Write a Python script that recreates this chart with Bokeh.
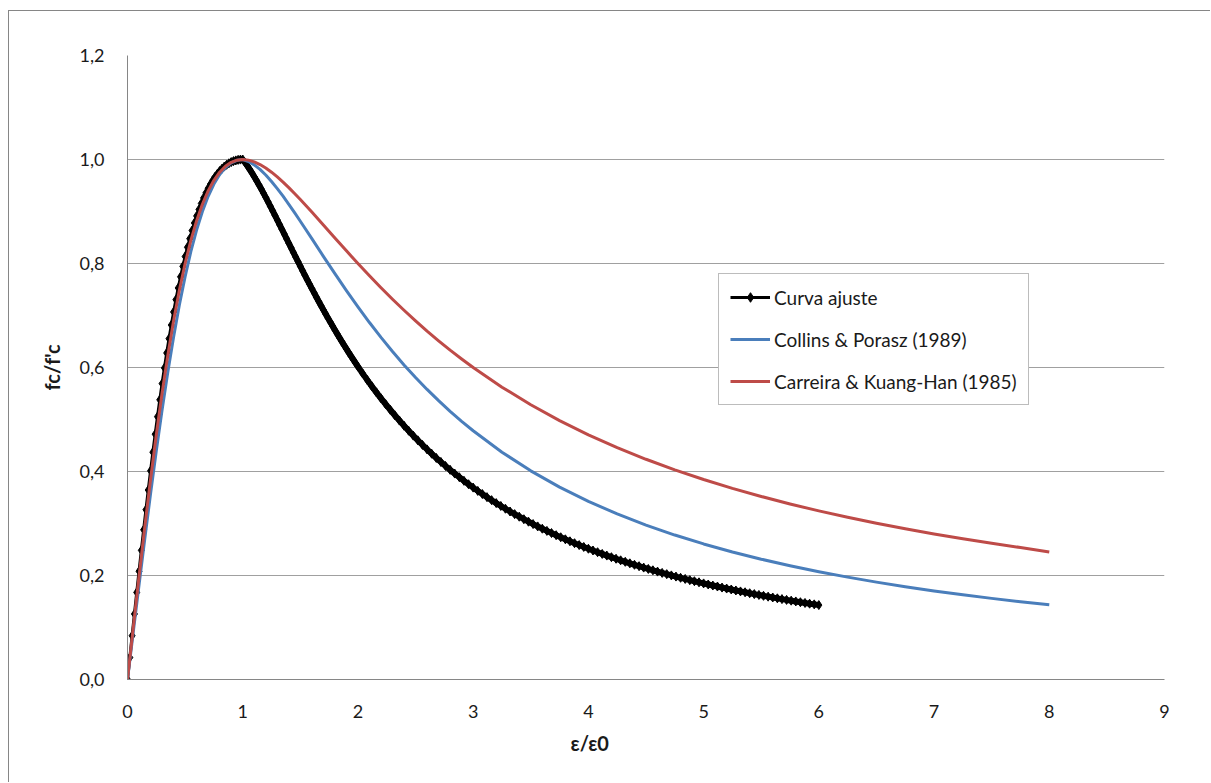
from bokeh.plotting import figure
from bokeh.models import Range1d, CustomJSTickFormatter, Legend, LegendItem, FixedTicker, Title
from bokeh.embed import file_html
from bokeh.resources import INLINE

# ---------------- data ----------------
X_TICKS = [0, 1, 2, 3, 4, 5, 6, 7, 8, 9]
Y_TICKS = [0.0, 0.2, 0.4, 0.6, 0.8, 1.0, 1.2]

SERIES_NAMES = ["Curva ajuste", "Collins & Porasz (1989)", "Carreira & Kuang-Han (1985)"]
X_TITLE = "ε/ε0"
Y_TITLE = "fc/f'c"

# "Curva ajuste": sampled every 0.02 up to 2.0, then every 0.04 up to 6.0
black_x = [round(i * 0.02, 2) for i in range(0, 101)] + [round(2.04 + i * 0.04, 2) for i in range(100)]
black_y = [
    0.0, 0.0422, 0.0842, 0.1260, 0.1674, 0.2082, 0.2484, 0.2879, 0.3266, 0.3644, 0.4013,
    0.4371, 0.4718, 0.5055, 0.5379, 0.5691, 0.5992, 0.6279, 0.6555, 0.6817, 0.7068,
    0.7305, 0.7530, 0.7744, 0.7945, 0.8134, 0.8312, 0.8478, 0.8634, 0.8779, 0.8914,
    0.9039, 0.9155, 0.9261, 0.9358, 0.9447, 0.9528, 0.9602, 0.9668, 0.9726, 0.9779,
    0.9824, 0.9864, 0.9898, 0.9927, 0.9950, 0.9969, 0.9983, 0.9993, 0.9998, 1.0,
    0.9941, 0.9879, 0.9812, 0.9742, 0.9669, 0.9594, 0.9516, 0.9436, 0.9354, 0.9270,
    0.9186, 0.9100, 0.9013, 0.8925, 0.8836, 0.8747, 0.8658, 0.8569, 0.8479, 0.8390,
    0.8301, 0.8212, 0.8123, 0.8035, 0.7947, 0.7860, 0.7773, 0.7687, 0.7602, 0.7518,
    0.7434, 0.7351, 0.7269, 0.7188, 0.7108, 0.7029, 0.6950, 0.6873, 0.6796, 0.6720,
    0.6646, 0.6572, 0.6499, 0.6428, 0.6357, 0.6287, 0.6218, 0.6150, 0.6083, 0.6017,
    0.5888, 0.5762, 0.5640, 0.5522, 0.5407, 0.5295, 0.5187, 0.5081, 0.4979, 0.4880,
    0.4784, 0.4690, 0.4599, 0.4511, 0.4425, 0.4342, 0.4261, 0.4183, 0.4106, 0.4032,
    0.3960, 0.3890, 0.3821, 0.3755, 0.3690, 0.3627, 0.3566, 0.3507, 0.3449, 0.3392,
    0.3337, 0.3284, 0.3231, 0.3180, 0.3131, 0.3082, 0.3035, 0.2989, 0.2944, 0.2900,
    0.2858, 0.2816, 0.2775, 0.2735, 0.2696, 0.2658, 0.2621, 0.2585, 0.2549, 0.2515,
    0.2481, 0.2448, 0.2415, 0.2383, 0.2352, 0.2322, 0.2292, 0.2263, 0.2234, 0.2206,
    0.2179, 0.2152, 0.2126, 0.2100, 0.2075, 0.2050, 0.2026, 0.2002, 0.1979, 0.1956,
    0.1934, 0.1911, 0.1890, 0.1869, 0.1848, 0.1827, 0.1807, 0.1788, 0.1768, 0.1749,
    0.1731, 0.1712, 0.1694, 0.1677, 0.1659, 0.1642, 0.1626, 0.1609, 0.1593, 0.1577,
    0.1561, 0.1546, 0.1531, 0.1516, 0.1501, 0.1486, 0.1472, 0.1458, 0.1445, 0.1431,
]

curve_x = [
    0.0, 0.05, 0.1, 0.15, 0.2, 0.25, 0.3, 0.35, 0.4, 0.45, 0.5, 0.55, 0.6, 0.65, 0.7, 0.75,
    0.8, 0.85, 0.9, 0.95, 1.0, 1.05, 1.1, 1.15, 1.2, 1.25, 1.3, 1.35, 1.4, 1.45, 1.5,
    1.6, 1.7, 1.8, 1.9, 2.0, 2.1, 2.2, 2.3, 2.4, 2.5, 2.6, 2.7, 2.8, 2.9, 3.0,
    3.25, 3.5, 3.75, 4.0, 4.25, 4.5, 4.75, 5.0, 5.25, 5.5, 5.75, 6.0, 6.25, 6.5, 6.75,
    7.0, 7.25, 7.5, 7.75, 8.0,
]
collins_y = [
    0.0, 0.0912, 0.1817, 0.2706, 0.3569, 0.4396, 0.5180, 0.5912, 0.6587, 0.7200, 0.7748,
    0.8231, 0.8648, 0.9001, 0.9293, 0.9528, 0.9710, 0.9844, 0.9934, 0.9984, 1.0,
    0.9962, 0.9897, 0.9809, 0.9701, 0.9577, 0.9440, 0.9294, 0.9139, 0.8978, 0.8813,
    0.8477, 0.8138, 0.7804, 0.7479, 0.7165, 0.6865, 0.6579, 0.6307, 0.6050, 0.5807,
    0.5578, 0.5362, 0.5157, 0.4965, 0.4783,
    0.4371, 0.4013, 0.3700, 0.3426, 0.3184, 0.2970, 0.2778, 0.2607, 0.2453, 0.2314,
    0.2188, 0.2073, 0.1969, 0.1873, 0.1785, 0.1704, 0.1629, 0.1560, 0.1495, 0.1436,
]
carreira_y = [
    0.0, 0.0998, 0.1980, 0.2934, 0.3846, 0.4706, 0.5505, 0.6236, 0.6897, 0.7484, 0.8000,
    0.8445, 0.8824, 0.9139, 0.9396, 0.9600, 0.9756, 0.9869, 0.9945, 0.9987, 1.0,
    0.9988, 0.9955, 0.9903, 0.9836, 0.9756, 0.9665, 0.9566, 0.9459, 0.9347, 0.9231,
    0.8989, 0.8740, 0.8491, 0.8243, 0.8000, 0.7763, 0.7534, 0.7313, 0.7101, 0.6897,
    0.6701, 0.6514, 0.6335, 0.6164, 0.6000,
    0.5622, 0.5283, 0.4979, 0.4706, 0.4459, 0.4235, 0.4032, 0.3846, 0.3676, 0.3520,
    0.3376, 0.3243, 0.3120, 0.3006, 0.2899, 0.2800, 0.2707, 0.2620, 0.2538, 0.2450,
]

# ---------------- styling ----------------
FONT = "Lato"
GRID = "#a0a0a0"
AXIS = "#868686"
BLUE = "#4a7ebb"
RED = "#be4b48"
TEXT = "#1a1a1a"

p = figure(
    width=1202, height=772,
    output_backend="svg", toolbar_location=None, title=None,
    x_range=Range1d(0, 9), y_range=Range1d(0, 1.2),
    min_border_left=118, min_border_right=47, min_border_top=44, min_border_bottom=104,
)
p.styles = {
    "margin-left": "8px",
    "margin-top": "10px",
    "border-left": "1px solid #868686",
    "border-top": "1px solid #868686",
}
p.outline_line_color = None
p.background_fill_color = "white"
p.border_fill_color = "white"

p.xaxis.ticker = FixedTicker(ticks=X_TICKS)
p.yaxis.ticker = FixedTicker(ticks=Y_TICKS)
p.xaxis.formatter = CustomJSTickFormatter(code="return tick.toFixed(0);")
p.yaxis.formatter = CustomJSTickFormatter(code="return tick.toFixed(1).replace('.', ',');")

for ax in (p.xaxis[0], p.yaxis[0]):
    ax.axis_line_color = AXIS
    ax.axis_line_width = 1
    ax.major_tick_out = 0
    ax.major_tick_in = 0
    ax.minor_tick_out = 0
    ax.minor_tick_in = 0
    ax.major_label_text_font = FONT
    ax.major_label_text_font_size = "18px"
    ax.major_label_text_color = TEXT
    ax.axis_label_text_font = FONT
    ax.axis_label_text_font_size = "20px"
    ax.axis_label_text_font_style = "bold"
    ax.axis_label_text_color = TEXT

p.yaxis.axis_label = Y_TITLE
p.xaxis.major_label_standoff = 25
p.yaxis.major_label_standoff = 23
p.yaxis.axis_label_standoff = 13

# x-axis title (Excel places it left of the plot-area centre)
p.add_layout(Title(text=X_TITLE, align="left", offset=443, standoff=16,
                   text_font=FONT, text_font_size="20px", text_font_style="bold",
                   text_color=TEXT), "below")

p.xgrid.visible = False
p.ygrid.grid_line_color = GRID
p.ygrid.grid_line_width = 1

fall_x = [x for x in black_x if x >= 1.0]
fall_y = [y for x, y in zip(black_x, black_y) if x >= 1.0]

r_black_line = p.line(black_x, black_y, line_color="black", line_width=3, line_join="round")
p.line(fall_x, fall_y, line_color="black", line_width=6, line_join="round")
r_black_pts = p.scatter(black_x, black_y, marker="diamond", size=9,
                        fill_color="black", line_color="black")
r_blue = p.line(curve_x, collins_y, line_color=BLUE, line_width=3, line_join="round")
r_red = p.line(curve_x, carreira_y, line_color=RED, line_width=3, line_join="round")

legend = Legend(
    items=[
        LegendItem(label=SERIES_NAMES[0], renderers=[r_black_line, r_black_pts]),
        LegendItem(label=SERIES_NAMES[1], renderers=[r_blue]),
        LegendItem(label=SERIES_NAMES[2], renderers=[r_red]),
    ],
    location=(591, 274),
    orientation="vertical",
    border_line_color="#7a7a7a",
    border_line_width=1,
    background_fill_color="white",
    background_fill_alpha=1.0,
    padding=11,
    spacing=18,
    margin=0,
    label_height=24,
    glyph_height=24,
    glyph_width=40,
    label_standoff=4,
    label_text_font=FONT,
    label_text_font_size="19px",
    label_text_color=TEXT,
)
p.add_layout(legend, "center")

open("out.html", "w").write(file_html(p, INLINE))
